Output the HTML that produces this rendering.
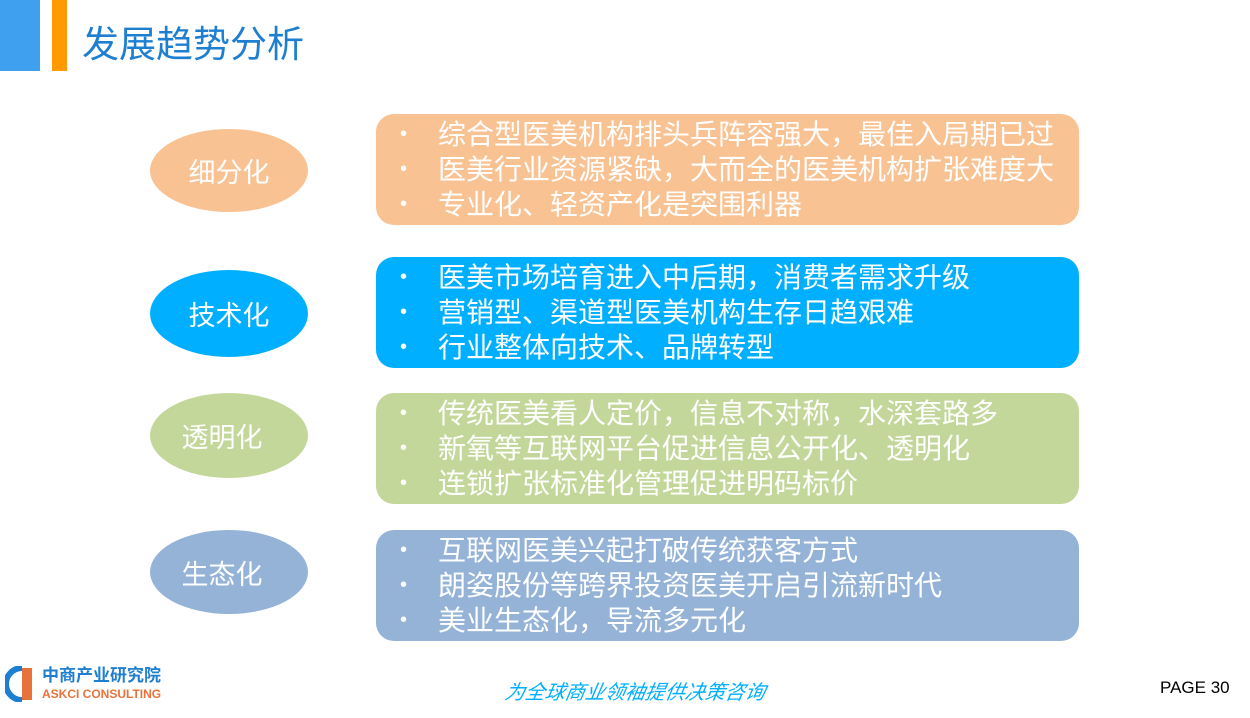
<!DOCTYPE html>
<html><head><meta charset="utf-8"><style>
body{margin:0;width:1250px;height:718px;background:#fff;position:relative;overflow:hidden;font-family:"Liberation Sans","Noto Sans CJK SC",sans-serif}
.a{position:absolute}
.el{position:absolute;border-radius:50%;color:#fff;font-size:27px;display:flex;align-items:center;justify-content:center}
.bx{position:absolute;left:376px;width:703px;height:111px;border-radius:18px;color:#fff;font-size:28px}
.bx div{position:absolute;left:62px;white-space:nowrap;line-height:35px}
.bx span{position:absolute;left:-38px;font-size:20px}
</style></head><body>
<div class="a" style="left:0;top:0;width:40px;height:71px;background:#3FA0F0"></div>
<div class="a" style="left:52px;top:0;width:15px;height:71px;background:#FF9900"></div>
<div class="a" style="left:82px;top:23px;font-size:37px;color:#1E7FD0;line-height:44px">发展趋势分析</div>

<div class="el" style="left:150px;top:129px;width:158px;height:83px;background:#F9C293">细分化</div>
<div class="el" style="left:150px;top:270px;width:158px;height:87px;background:#00AFFF">技术化</div>
<div class="el" style="left:150px;top:393px;width:158px;height:85px;background:#C4D79B;padding-right:14px;box-sizing:border-box">透明化</div>
<div class="el" style="left:150px;top:530px;width:158px;height:84px;background:#95B3D7;padding-right:14px;box-sizing:border-box">生态化</div>

<div class="bx" style="top:114px;background:#F9C293">
<div style="top:3px"><span>•</span>综合型医美机构排头兵阵容强大，最佳入局期已过</div>
<div style="top:38px"><span>•</span>医美行业资源紧缺，大而全的医美机构扩张难度大</div>
<div style="top:73px"><span>•</span>专业化、轻资产化是突围利器</div>
</div>
<div class="bx" style="top:257px;background:#00AFFF">
<div style="top:3px"><span>•</span>医美市场培育进入中后期，消费者需求升级</div>
<div style="top:38px"><span>•</span>营销型、渠道型医美机构生存日趋艰难</div>
<div style="top:73px"><span>•</span>行业整体向技术、品牌转型</div>
</div>
<div class="bx" style="top:393px;background:#C4D79B">
<div style="top:3px"><span>•</span>传统医美看人定价，信息不对称，水深套路多</div>
<div style="top:38px"><span>•</span>新氧等互联网平台促进信息公开化、透明化</div>
<div style="top:73px"><span>•</span>连锁扩张标准化管理促进明码标价</div>
</div>
<div class="bx" style="top:530px;background:#95B3D7">
<div style="top:3px"><span>•</span>互联网医美兴起打破传统获客方式</div>
<div style="top:38px"><span>•</span>朗姿股份等跨界投资医美开启引流新时代</div>
<div style="top:73px"><span>•</span>美业生态化，导流多元化</div>
</div>

<svg class="a" style="left:5px;top:666px" width="34" height="36" viewBox="0 0 34 36">
<path d="M17 2 A16 16 0 1 0 17 34" fill="none" stroke="#1E7FD0" stroke-width="6"/>
<rect x="17" y="2" width="10" height="32" fill="#E8733A"/>
</svg>
<div class="a" style="left:42px;top:666px;font-size:17px;color:#1E7FD0;font-weight:bold;line-height:20px">中商产业研究院</div>
<div class="a" style="left:42px;top:687px;font-size:12px;color:#E8733A;font-weight:bold;line-height:14px">ASKCI CONSULTING</div>
<div class="a" style="left:505px;top:681px;font-size:20px;color:#00AFFF;font-style:italic;line-height:24px;transform:skewX(-10deg)">为全球商业领袖提供决策咨询</div>
<div class="a" style="left:1160px;top:678px;font-size:17px;color:#000;line-height:20px">PAGE 30</div>
</body></html>
